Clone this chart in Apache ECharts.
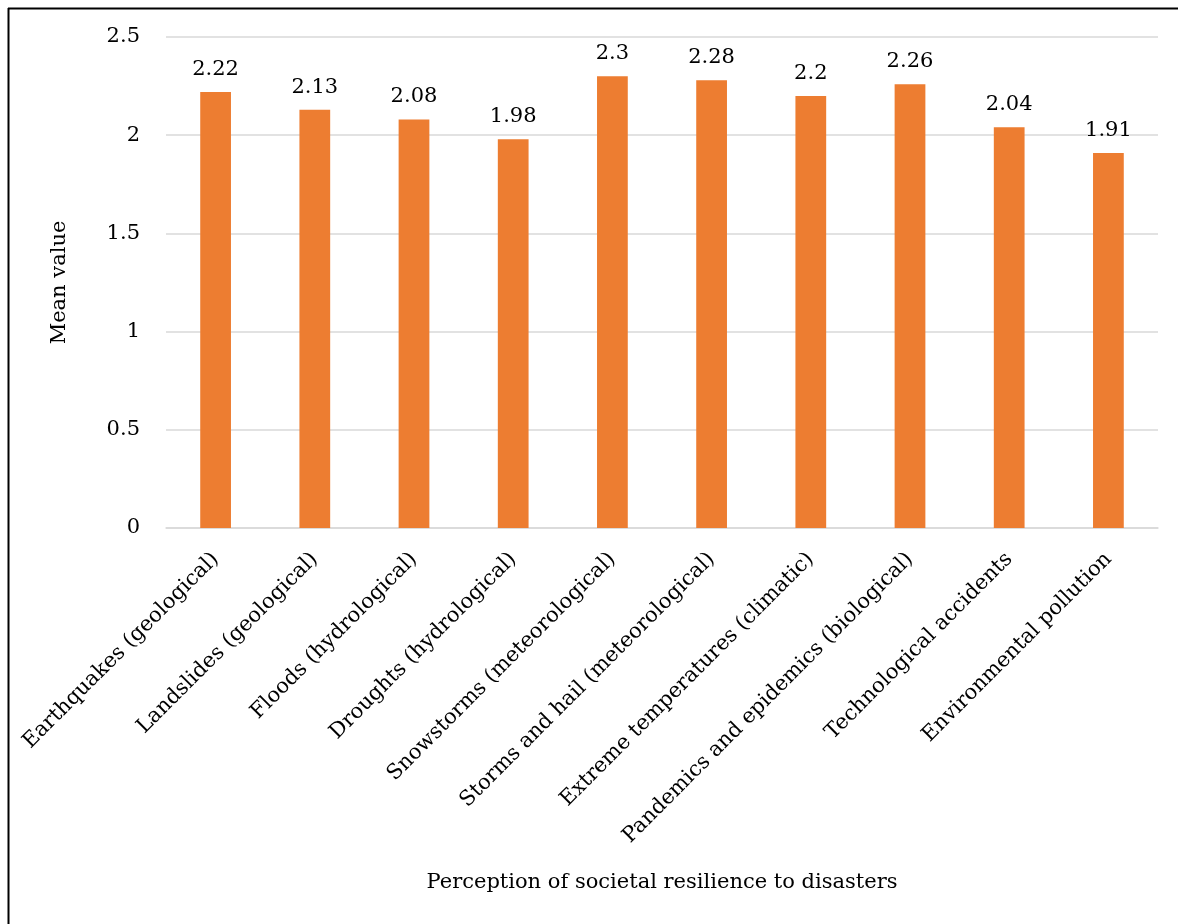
<!DOCTYPE html>
<html>
<head>
<meta charset="utf-8">
<style>
  html, body { margin: 0; padding: 0; background: #ffffff; }
  #chart { width: 1178px; height: 924px; }
</style>
<script src="https://cdn.jsdelivr.net/npm/echarts@6/dist/echarts.min.js"></script>
</head>
<body>
<div id="chart"></div>
<script>
// Disaster categories and their mean perceived resilience scores
const categories = [
  'Earthquakes (geological)',
  'Landslides (geological)',
  'Floods (hydrological)',
  'Droughts (hydrological)',
  'Snowstorms (meteorological)',
  'Storms and hail (meteorological)',
  'Extreme temperatures (climatic)',
  'Pandemics and epidemics (biological)',
  'Technological accidents',
  'Environmental pollution'
];
const meanValues = [2.22, 2.13, 2.08, 1.98, 2.3, 2.28, 2.2, 2.26, 2.04, 1.91];

const FONT = '"DejaVu Serif", "Liberation Serif", serif';
const TEXT = '#000000';

const chart = echarts.init(document.getElementById('chart'), null, { renderer: 'canvas' });

chart.setOption({
  backgroundColor: '#ffffff',
  animation: false,
  textStyle: { fontFamily: FONT },
  grid: { left: 166, right: 20, top: 37, bottom: 396, containLabel: false },
  graphic: [
    { type: 'line', shape: { x1: 8, y1: 8.5, x2: 1178, y2: 8.5 }, style: { stroke: '#000', lineWidth: 2 } },
    { type: 'line', shape: { x1: 8.5, y1: 8, x2: 8.5, y2: 924 }, style: { stroke: '#000', lineWidth: 2 } }
  ],
  xAxis: {
    type: 'category',
    data: categories,
    name: 'Perception of societal resilience to disasters',
    nameLocation: 'middle',
    nameGap: 344,
    nameTextStyle: { fontFamily: FONT, fontSize: 21, color: TEXT },
    axisLine: { show: true, lineStyle: { color: '#d9d9d9', width: 1.5 } },
    axisTick: { show: false },
    axisLabel: {
      interval: 0,
      rotate: 45,
      margin: 28,
      fontFamily: FONT,
      fontSize: 21,
      color: TEXT
    }
  },
  yAxis: {
    type: 'value',
    min: 0,
    max: 2.5,
    interval: 0.5,
    name: 'Mean value',
    nameLocation: 'middle',
    nameGap: 96,
    nameTextStyle: { fontFamily: FONT, fontSize: 21, color: TEXT },
    axisLine: { show: false },
    axisTick: { show: false },
    splitLine: { lineStyle: { color: '#d9d9d9', width: 1.5 } },
    axisLabel: {
      margin: 26,
      fontFamily: FONT,
      fontSize: 21,
      color: TEXT
    }
  },
  series: [{
    type: 'bar',
    data: meanValues,
    barWidth: '31%',
    itemStyle: { color: '#ED7D31' },
    label: {
      show: true,
      position: 'top',
      distance: 12,
      fontFamily: FONT,
      fontSize: 21,
      color: TEXT
    }
  }]
});
</script>
</body>
</html>
